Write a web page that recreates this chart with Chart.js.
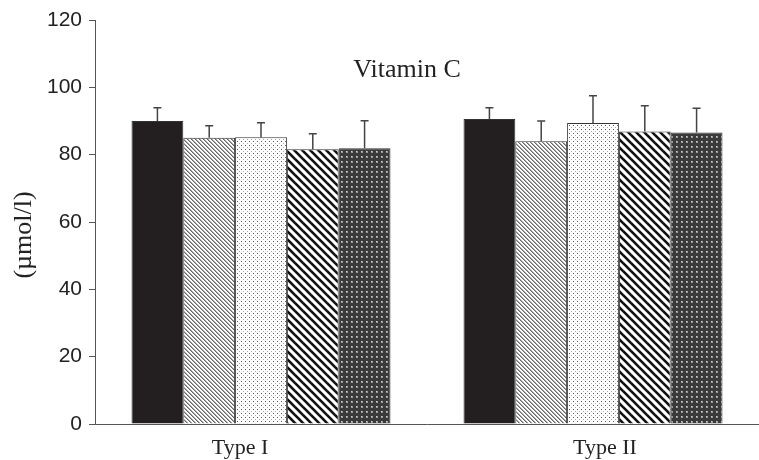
<!DOCTYPE html>
<html>
<head>
<meta charset="utf-8">
<script src="https://cdn.jsdelivr.net/npm/chart.js@4/dist/chart.umd.min.js"></script>
<style>
  html, body { margin: 0; padding: 0; background: #fff; }
  #wrap { width: 759px; height: 460px; position: relative; }
</style>
</head>
<body>
<div id="wrap"><canvas id="grafico"></canvas></div>
<script>
// dados
var categorias = ["Type I", "Type II"];
var serie1 = [90.0, 90.6];
var serie2 = [85.0, 84.0];
var serie3 = [85.2, 89.4];
var serie4 = [81.6, 86.9];
var serie5 = [81.9, 86.6];
var erro1 = [3.9, 3.3];
var erro2 = [3.6, 6.0];
var erro3 = [4.3, 8.1];
var erro4 = [4.6, 7.6];
var erro5 = [8.2, 7.2];
var ticksY = [0, 20, 40, 60, 80, 100, 120];

var serif = "'Liberation Serif', 'Times New Roman', serif";

// padroes de preenchimento
function padrao(tam, desenha) {
  var c = document.createElement("canvas");
  c.width = tam; c.height = tam;
  var g = c.getContext("2d");
  desenha(g, tam);
  return document.getElementById("grafico").getContext("2d").createPattern(c, "repeat");
}

var pFino = padrao(4, function(g, t) {
  g.fillStyle = "#fff"; g.fillRect(0, 0, t, t);
  g.fillStyle = "#666";
  for (var i = 0; i < t; i++) g.fillRect(i, i, 1, 1);
  g.fillStyle = "#aaa";
  for (var i = 0; i < t; i++) g.fillRect((i + 1) % t, i, 1, 1);
});
var pPontos = padrao(4, function(g, t) {
  g.fillStyle = "#fff"; g.fillRect(0, 0, t, t);
  g.fillStyle = "#555"; g.fillRect(1, 1, 1, 1);
  g.fillStyle = "#aaa"; g.fillRect(3, 3, 1, 1);
});
var pListras = padrao(8, function(g, t) {
  g.fillStyle = "#fff"; g.fillRect(0, 0, t, t);
  g.strokeStyle = "#111"; g.lineWidth = 2.6;
  for (var k = -1; k <= 1; k++) {
    g.beginPath();
    g.moveTo(k * t - 1, -1);
    g.lineTo(k * t + t + 1, t + 1);
    g.stroke();
  }
});
var pGrade = padrao(5, function(g, t) {
  g.fillStyle = "#3a3a3a"; g.fillRect(0, 0, t, t);
  g.fillStyle = "#9a9a9a"; g.fillRect(1, 1, 2, 2);
  g.fillStyle = "#d0d0d0"; g.fillRect(1, 1, 1, 1);
});

var erros = [erro1, erro2, erro3, erro4, erro5];

var barrasErro = {
  id: "barrasErro",
  afterDatasetsDraw: function(chart) {
    var ctx = chart.ctx;
    var y = chart.scales.y;
    ctx.save();
    ctx.strokeStyle = "#444";
    ctx.lineWidth = 1.5;
    chart.data.datasets.forEach(function(ds, i) {
      var meta = chart.getDatasetMeta(i);
      meta.data.forEach(function(bar, j) {
        var topo = y.getPixelForValue(ds.data[j] + erros[i][j]);
        ctx.beginPath();
        ctx.moveTo(bar.x, bar.y);
        ctx.lineTo(bar.x, topo);
        ctx.moveTo(bar.x - 4, topo);
        ctx.lineTo(bar.x + 4, topo);
        ctx.stroke();
      });
    });
    ctx.restore();
  }
};

// textos: titulo interno, rotulo do eixo y e categorias
var textos = {
  id: "textos",
  afterDraw: function(chart) {
    var ctx = chart.ctx;
    var x = chart.scales.x;
    var y = chart.scales.y;
    ctx.save();
    ctx.fillStyle = "#222";
    ctx.textAlign = "center";

    ctx.font = "26px " + serif;
    ctx.textBaseline = "alphabetic";
    ctx.fillText("Vitamin C", 407, 77);

    ctx.font = "22px " + serif;
    var desloc = [-21, 12];
    categorias.forEach(function(c, i) {
      ctx.fillText(c, x.getPixelForValue(i) + desloc[i], 454);
    });

    ctx.translate(24, 235);
    ctx.rotate(-Math.PI / 2);
    ctx.font = "26px " + serif;
    ctx.textBaseline = "middle";
    ctx.fillText("(\u00b5mol/l)", 0, 0);
    ctx.restore();
  }
};

var borda = "#333";
function ds(rotulo, valores, fundo) {
  return {
    label: rotulo,
    data: valores,
    backgroundColor: fundo,
    borderColor: borda,
    borderWidth: 1,
    barPercentage: 1,
    categoryPercentage: 0.78
  };
}

var grafico = new Chart(document.getElementById("grafico"), {
  type: "bar",
  data: {
    labels: categorias,
    datasets: [
      ds("1", serie1, "#231f20"),
      ds("2", serie2, pFino),
      ds("3", serie3, pPontos),
      ds("4", serie4, pListras),
      ds("5", serie5, pGrade)
    ]
  },
  options: {
    responsive: true,
    maintainAspectRatio: false,
    animation: false,
    layout: { padding: { top: 20, right: 0, left: 0, bottom: 0 } },
    plugins: { legend: { display: false }, tooltip: { enabled: false } },
    scales: {
      x: {
        grid: { display: false },
        border: { display: true, color: "#555", width: 1 },
        ticks: { display: false },
        afterFit: function(s) { s.height = 36; }
      },
      y: {
        min: 0,
        max: 120,
        afterBuildTicks: function(s) { s.ticks = ticksY.map(function(v) { return { value: v }; }); },
        grid: { drawOnChartArea: false, tickLength: 6, color: "#555" },
        border: { display: true, color: "#555", width: 1 },
        ticks: {
          color: "#222",
          padding: 7,
          font: { family: "'Liberation Sans', Arial, sans-serif", size: 21 }
        },
        afterFit: function(s) { s.width = 95; }
      }
    }
  },
  plugins: [barrasErro, textos]
});
</script>
</body>
</html>
